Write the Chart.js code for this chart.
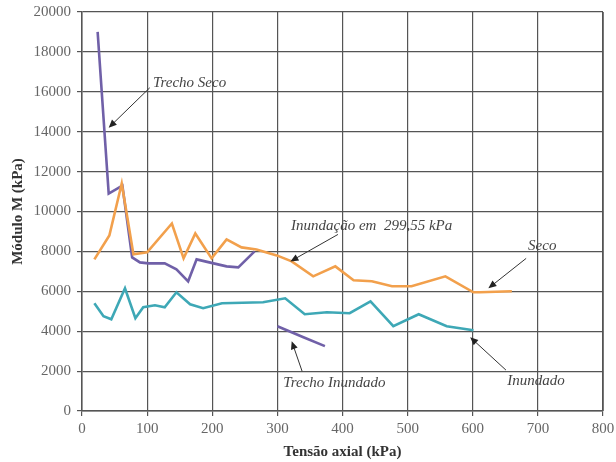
<!DOCTYPE html>
<html>
<head>
<meta charset="utf-8">
<script src="https://cdn.jsdelivr.net/npm/chart.js@4.4.1/dist/chart.umd.min.js"></script>
<style>
  html, body { margin: 0; padding: 0; background: #fff; }
  #wrap { width: 616px; height: 462px; position: relative; }
</style>
</head>
<body>
<div id="wrap"><canvas id="c" width="616" height="462"></canvas></div>
<script>
// Curva "Seco"
const secoX = [19, 42, 61, 79, 100, 138, 156, 174, 199, 222, 245, 268, 299, 322, 355, 389, 417, 445, 476, 506, 558, 601, 611, 660];
const secoY = [7600, 8800, 11400, 7850, 7950, 9400, 7650, 8900, 7650, 8600, 8200, 8100, 7800, 7500, 6750, 7250, 6550, 6500, 6250, 6250, 6750, 5950, 5950, 6000];

// Curva "Inundado"
const inundadoX = [19, 33, 45, 66, 82, 94, 112, 127, 145, 166, 186, 215, 278, 312, 342, 376, 411, 443, 478, 517, 560, 601];
const inundadoY = [5400, 4750, 4600, 6150, 4650, 5200, 5300, 5200, 5950, 5350, 5150, 5400, 5450, 5650, 4850, 4950, 4900, 5500, 4250, 4850, 4250, 4050];

// Ensaio com inundação em 299,55 kPa: trecho seco e trecho inundado
const trechoSecoX = [24, 41, 62, 77, 89, 102, 127, 145, 163, 176, 202, 222, 240, 265];
const trechoSecoY = [19000, 10900, 11300, 7700, 7450, 7400, 7400, 7100, 6500, 7600, 7400, 7250, 7200, 8000];
const trechoInundadoX = [300, 340, 373];
const trechoInundadoY = [4250, 3700, 3250];

// Eixos
const xTicks = [0, 100, 200, 300, 400, 500, 600, 700, 800];
const yTicks = [0, 2000, 4000, 6000, 8000, 10000, 12000, 14000, 16000, 18000, 20000];

// Rótulos com seta (coordenadas em kPa)
const notes = [
  { text: 'Trecho Seco', at: [109, 16450], from: [104, 16200], to: [41, 14200] },
  { text: 'Inundação em  299,55 kPa', at: [321, 9250], from: [393, 8850], to: [320, 7500] },
  { text: 'Seco', at: [685, 8250], from: [682, 7650], to: [624, 6150] },
  { text: 'Inundado', at: [653, 1520], from: [651, 2050], to: [596, 3700] },
  { text: 'Trecho Inundado', at: [309, 1380], from: [338, 1990], to: [322, 3500] }
];

const pts = (xs, ys) => xs.map((x, i) => ({ x: x, y: ys[i] }));

const COLORS = {
  seco: '#f2a04c',
  inundado: '#3ea8b6',
  trecho: '#7060a8'
};

const serif = '"Liberation Serif", "Times New Roman", serif';

const notesPlugin = {
  id: 'notes',
  afterDatasetsDraw(chart) {
    const { ctx, scales: { x, y } } = chart;
    ctx.save();
    ctx.font = 'italic 15px ' + serif;
    ctx.textBaseline = 'middle';
    ctx.textAlign = 'left';
    notes.forEach(n => {
      ctx.fillStyle = '#444';
      ctx.fillText(n.text, x.getPixelForValue(n.at[0]), y.getPixelForValue(n.at[1]));
      const x1 = x.getPixelForValue(n.from[0]), y1 = y.getPixelForValue(n.from[1]);
      const x2 = x.getPixelForValue(n.to[0]), y2 = y.getPixelForValue(n.to[1]);
      const ang = Math.atan2(y2 - y1, x2 - x1);
      ctx.strokeStyle = '#333';
      ctx.lineWidth = 1;
      ctx.beginPath();
      ctx.moveTo(x1, y1);
      ctx.lineTo(x2 - 5 * Math.cos(ang), y2 - 5 * Math.sin(ang));
      ctx.stroke();
      ctx.beginPath();
      ctx.moveTo(x2, y2);
      ctx.lineTo(x2 - 8 * Math.cos(ang) + 3.5 * Math.sin(ang), y2 - 8 * Math.sin(ang) - 3.5 * Math.cos(ang));
      ctx.lineTo(x2 - 8 * Math.cos(ang) - 3.5 * Math.sin(ang), y2 - 8 * Math.sin(ang) + 3.5 * Math.cos(ang));
      ctx.closePath();
      ctx.fillStyle = '#222';
      ctx.fill();
    });
    ctx.restore();
  }
};

// Moldura da área de plotagem
const framePlugin = {
  id: 'frame',
  afterDraw(chart) {
    const { ctx, chartArea: a } = chart;
    ctx.save();
    ctx.strokeStyle = '#555';
    ctx.lineWidth = 1.5;
    ctx.beginPath();
    ctx.moveTo(a.right, a.top);
    ctx.lineTo(a.right, a.bottom);
    ctx.stroke();
    ctx.restore();
  }
};

const lineDs = (label, data, color) => ({
  label: label,
  data: data,
  borderColor: color,
  backgroundColor: color,
  borderWidth: 2.6,
  pointRadius: 0,
  tension: 0,
  showLine: true,
  fill: false
});

new Chart(document.getElementById('c'), {
  type: 'scatter',
  data: {
    datasets: [
      lineDs('Seco', pts(secoX, secoY), COLORS.seco),
      lineDs('Inundado', pts(inundadoX, inundadoY), COLORS.inundado),
      lineDs('Trecho Seco', pts(trechoSecoX, trechoSecoY), COLORS.trecho),
      lineDs('Trecho Inundado', pts(trechoInundadoX, trechoInundadoY), COLORS.trecho)
    ]
  },
  options: {
    responsive: false,
    animation: false,
    events: [],
    layout: { padding: { top: 12, right: 13, left: 0, bottom: 0 } },
    plugins: {
      legend: { display: false },
      tooltip: { enabled: false }
    },
    scales: {
      x: {
        type: 'linear',
        min: 0,
        max: 800,
        afterBuildTicks: s => { s.ticks = xTicks.map(v => ({ value: v })); },
        afterFit: s => { s.height = 51; s.paddingLeft = 0; s.paddingRight = 0; },
        grid: { color: '#555', lineWidth: 1.2, tickLength: 5, drawTicks: true },
        border: { color: '#555', width: 1.5 },
        ticks: {
          color: '#666',
          font: { family: serif, size: 15 },
          padding: 4,
          maxRotation: 0,
          callback: v => String(v)
        },
        title: {
          display: true,
          text: 'Tensão axial (kPa)',
          color: '#333',
          font: { family: serif, size: 15, weight: 'bold' },
          padding: { top: 2, bottom: 1 }
        }
      },
      y: {
        type: 'linear',
        min: 0,
        max: 20000,
        afterBuildTicks: s => { s.ticks = yTicks.map(v => ({ value: v })); },
        afterFit: s => { s.width = 82; s.paddingTop = 0; s.paddingBottom = 0; },
        grid: { color: '#555', lineWidth: 1.2, tickLength: 5, drawTicks: true },
        border: { color: '#555', width: 1.5 },
        ticks: {
          color: '#666',
          font: { family: serif, size: 15 },
          padding: 6,
          callback: v => String(v)
        },
        title: {
          display: true,
          text: 'Módulo M (kPa)',
          color: '#333',
          font: { family: serif, size: 15, weight: 'bold' },
          padding: { top: 9, bottom: 2 }
        }
      }
    }
  },
  plugins: [notesPlugin, framePlugin]
});
</script>
</body>
</html>
